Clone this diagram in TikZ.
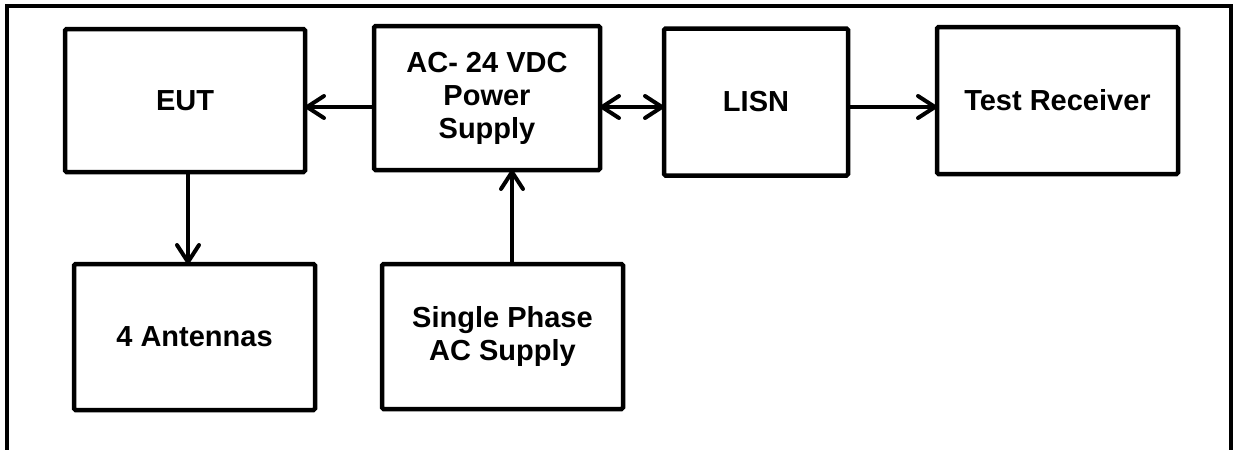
\documentclass[tikz,border=0pt]{standalone}
\usepackage{fontspec}
\setmainfont{Liberation Sans}
\usetikzlibrary{arrows.meta}
\begin{document}
\begin{tikzpicture}[x=1pt,y=-1pt,
  box/.style={draw, line width=4.5pt, rounded corners=1.5pt, outer sep=0pt, inner sep=0pt,
    align=center, font=\bfseries\fontsize{29}{33}\selectfont},
  tipb/.tip={Straight Barb[length=17pt,width=22pt,line cap=round,line join=round]},
  arr/.style={line width=4pt, -tipb},
  darr/.style={line width=4pt, tipb-tipb}
]
\useasboundingbox (0,0) rectangle (1235,450);
\draw[line width=4pt] (7,450) -- (7,6) -- (1231,6) -- (1231,450);

\node[box, minimum width=240pt, minimum height=143pt] (eut) at (185,100.5) {EUT};
\node[box, minimum width=226pt, minimum height=144pt] (ps) at (487,98) {AC- 24 VDC\\Power\\Supply};
\node[box, minimum width=184pt, minimum height=147pt] (lisn) at (756,102) {LISN};
\node[box, minimum width=241pt, minimum height=147pt] (tr) at (1057.5,100.5) {Test Receiver};
\node[box, minimum width=241pt, minimum height=146pt] (ant) at (194.5,337) {4 Antennas};
\node[box, minimum width=241pt, minimum height=145pt] (sp) at (502.5,336.5) {Single Phase\\AC Supply};

\draw[arr] ([yshift=-9pt]ps.west) -- ([yshift=-9pt]ps.west -| eut.east);
\draw[darr] ([yshift=-9pt]ps.east) -- ([yshift=-9pt]ps.east -| lisn.west);
\draw[arr] ([yshift=-5pt]lisn.east) -- ([yshift=-5pt]lisn.east -| tr.west);
\draw[arr] ([xshift=3pt]eut.south) -- ([xshift=3pt]eut.south |- ant.north);
\draw[arr] ([xshift=9.5pt]sp.north) -- ([xshift=9.5pt]sp.north |- ps.south);
\end{tikzpicture}
\end{document}
